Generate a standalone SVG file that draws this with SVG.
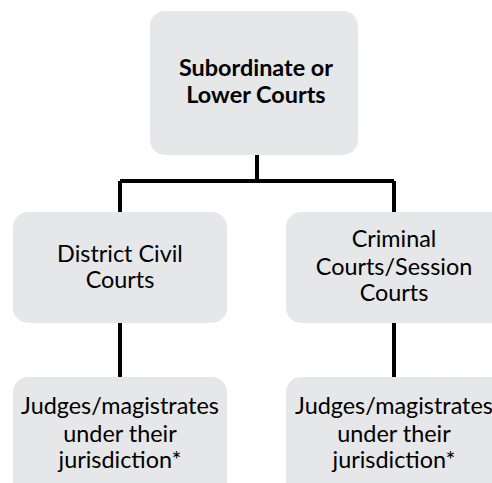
<svg xmlns="http://www.w3.org/2000/svg" width="492" height="483" viewBox="0 0 492 483">
<style>
.box{fill:#e6e7e8;}
.t{font-family:Lato,"Open Sans","Liberation Sans",sans-serif;font-size:23.4px;fill:#000;text-anchor:middle;}
.b{font-weight:bold;}
.c{stroke:#000;stroke-width:4;fill:none;}
</style>
<rect width="492" height="483" fill="#fff"/>
<g id="connectors">
<path class="c" d="M257 155V181M120 181H394M120 181V212M394 181V212M120 323V377M394 323V377"/>
</g>
<g id="top">
<rect class="box" x="150" y="11" width="208" height="144" rx="15"/>
<text class="t b" x="256" y="76">Subordinate or</text>
<text class="t b" x="256" y="103">Lower Courts</text>
</g>
<g id="district">
<rect class="box" x="13" y="212" width="214" height="111" rx="15"/>
<text class="t" x="120" y="262">District Civil</text>
<text class="t" x="120" y="288">Courts</text>
</g>
<g id="criminal">
<rect class="box" x="286" y="212" width="220" height="111" rx="15"/>
<text class="t" x="394" y="247">Criminal</text>
<text class="t" x="394" y="275">Courts/Session</text>
<text class="t" x="394" y="301">Courts</text>
</g>
<g id="judges-left">
<rect class="box" x="13" y="377" width="214" height="120" rx="15"/>
<text class="t" x="120" y="414">Judges/magistrates</text>
<text class="t" x="120" y="442">under their</text>
<text class="t" x="120" y="468">jurisdiction*</text>
</g>
<g id="judges-right">
<rect class="box" x="286" y="377" width="220" height="120" rx="15"/>
<text class="t" x="394" y="414">Judges/magistrates</text>
<text class="t" x="394" y="442">under their</text>
<text class="t" x="394" y="468">jurisdiction*</text>
</g>
</svg>
